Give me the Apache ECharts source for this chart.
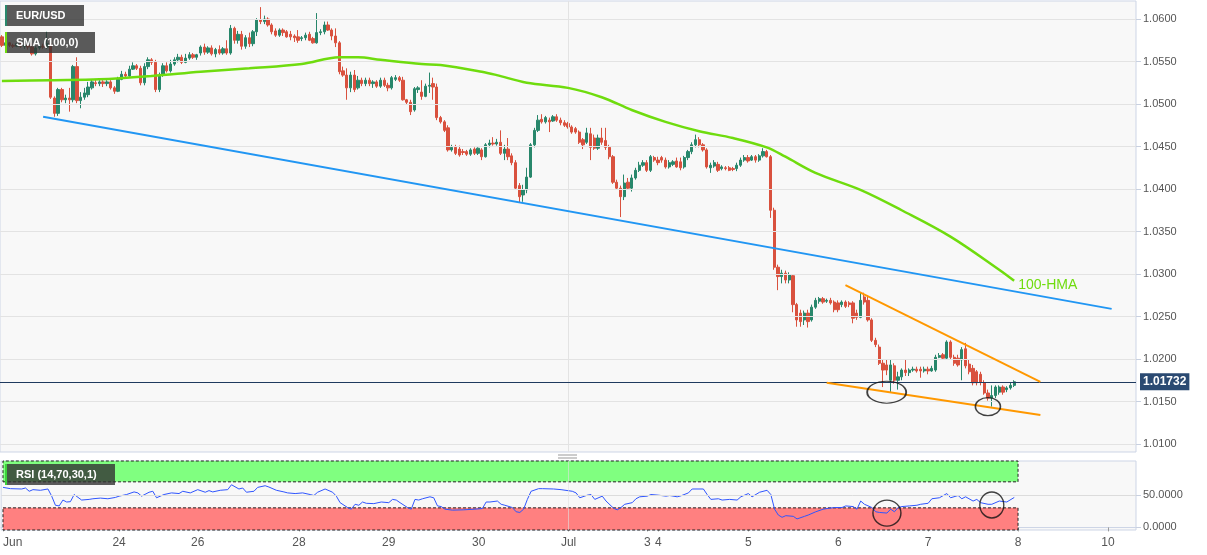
<!DOCTYPE html>
<html><head><meta charset="utf-8">
<script src="https://cdn.jsdelivr.net/npm/echarts@6/dist/echarts.min.js"></script>
<style>html,body{margin:0;padding:0;background:#fff;}#c{width:1207px;height:555px;}</style>
</head><body><div id="c"></div>
<script>
// ---------- data ----------
const slotCount = 303; // hourly slots on the category axis (incl. empty future area)
const tickSlots = [0,31,52,79,103,127,151,172,175,199,223,247,271,295];
const tickLabels = ['Jun','24','26','28','29','30','Jul','3','4','5','6','7','8','10'];
const priceTicks = [1.0100,1.0150,1.0200,1.0250,1.0300,1.0350,1.0400,1.0450,1.0500,1.0550,1.0600];
const rsiTicks = [0,50];
const lastPrice = 1.01732;
const julSlot = 151;

const open = [1.0579,1.0569,1.0572,1.0569,1.0568,1.0571,1.0568,1.0569,1.0567,1.0559,
1.0566,1.0568,1.0567,1.0571,1.0507,1.0489,1.0517,1.0505,1.0507,1.0505,
1.0544,1.0504,1.0508,1.0511,1.0519,1.0525,1.0524,1.0526,1.0524,1.0526,
1.0519,1.0515,1.0529,1.0535,1.0533,1.0541,1.0545,1.0542,1.0525,1.0544,
1.0552,1.0549,1.0517,1.0534,1.0545,1.0539,1.0547,1.0552,1.0555,1.0549,
1.0554,1.0558,1.0555,1.0560,1.0567,1.0561,1.0566,1.0559,1.0564,1.0560,
1.0565,1.0560,1.0589,1.0575,1.0582,1.0568,1.0578,1.0571,1.0585,1.0599,
1.0597,1.0600,1.0593,1.0586,1.0581,1.0587,1.0585,1.0582,1.0580,1.0579,
1.0577,1.0578,1.0582,1.0577,1.0572,1.0584,1.0585,1.0593,1.0587,1.0580,
1.0572,1.0539,1.0534,1.0519,1.0534,1.0519,1.0528,1.0524,1.0528,1.0524,
1.0526,1.0521,1.0528,1.0522,1.0519,1.0529,1.0531,1.0528,1.0505,1.0502,
1.0493,1.0517,1.0514,1.0509,1.0521,1.0524,1.0520,1.0484,1.0479,1.0472,
1.0446,1.0449,1.0447,1.0444,1.0444,1.0441,1.0447,1.0442,1.0446,1.0438,
1.0452,1.0454,1.0453,1.0455,1.0442,1.0447,1.0439,1.0431,1.0404,1.0393,
1.0399,1.0414,1.0452,1.0469,1.0482,1.0479,1.0481,1.0480,1.0485,1.0481,
1.0478,1.0477,1.0473,1.0471,1.0467,1.0458,1.0455,1.0465,1.0460,1.0448,
1.0460,1.0457,1.0449,1.0438,1.0408,1.0401,1.0391,1.0408,1.0401,1.0413,
1.0422,1.0428,1.0431,1.0422,1.0437,1.0434,1.0437,1.0434,1.0426,1.0429,
1.0433,1.0432,1.0426,1.0437,1.0444,1.0452,1.0458,1.0452,1.0446,1.0425,
1.0427,1.0429,1.0424,1.0425,1.0425,1.0424,1.0424,1.0428,1.0434,1.0437,
1.0434,1.0438,1.0434,1.0439,1.0444,1.0438,1.0375,1.0308,1.0297,1.0301,
1.0293,1.0298,1.0264,1.0254,1.0246,1.0254,1.0246,1.0261,1.0268,1.0271,
1.0268,1.0269,1.0267,1.0266,1.0264,1.0267,1.0266,1.0266,1.0254,1.0249,
1.0273,1.0269,1.0246,1.0222,1.0214,1.0195,1.0193,1.0175,1.0192,1.0175,
1.0179,1.0187,1.0184,1.0187,1.0188,1.0188,1.0186,1.0188,1.0186,1.0187,
1.0202,1.0205,1.0201,1.0220,1.0202,1.0201,1.0199,1.0212,1.0194,1.0189,
1.0185,1.0182,1.0172,1.0160,1.0154,1.0157,1.0161,1.0167,1.0164,1.0166,1.0169];

const close = [1.0569,1.0572,1.0569,1.0568,1.0571,1.0568,1.0569,1.0567,1.0559,1.0566,
1.0568,1.0567,1.0571,1.0508,1.0489,1.0517,1.0505,1.0507,1.0505,1.0544,
1.0504,1.0508,1.0513,1.0520,1.0526,1.0524,1.0526,1.0524,1.0526,1.0519,
1.0515,1.0529,1.0535,1.0533,1.0541,1.0545,1.0542,1.0525,1.0544,1.0552,
1.0549,1.0517,1.0534,1.0545,1.0539,1.0547,1.0552,1.0555,1.0549,1.0554,
1.0558,1.0555,1.0558,1.0567,1.0561,1.0566,1.0559,1.0564,1.0560,1.0565,
1.0560,1.0589,1.0575,1.0582,1.0568,1.0578,1.0571,1.0585,1.0599,1.0597,
1.0600,1.0593,1.0585,1.0581,1.0587,1.0584,1.0579,1.0579,1.0578,1.0575,
1.0578,1.0581,1.0575,1.0572,1.0584,1.0585,1.0593,1.0587,1.0580,1.0572,
1.0538,1.0534,1.0519,1.0534,1.0517,1.0528,1.0524,1.0528,1.0524,1.0526,
1.0521,1.0528,1.0522,1.0519,1.0531,1.0531,1.0528,1.0505,1.0502,1.0491,
1.0518,1.0519,1.0509,1.0521,1.0522,1.0520,1.0484,1.0479,1.0469,1.0446,
1.0449,1.0442,1.0440,1.0443,1.0441,1.0446,1.0442,1.0448,1.0438,1.0452,
1.0454,1.0453,1.0455,1.0442,1.0447,1.0438,1.0431,1.0401,1.0391,1.0399,
1.0414,1.0452,1.0469,1.0481,1.0479,1.0484,1.0479,1.0485,1.0481,1.0478,
1.0475,1.0473,1.0467,1.0467,1.0455,1.0452,1.0466,1.0449,1.0448,1.0460,
1.0455,1.0449,1.0438,1.0408,1.0401,1.0391,1.0407,1.0401,1.0413,1.0422,
1.0428,1.0431,1.0422,1.0438,1.0434,1.0431,1.0434,1.0426,1.0431,1.0432,
1.0426,1.0425,1.0437,1.0444,1.0452,1.0458,1.0452,1.0446,1.0426,1.0428,
1.0431,1.0422,1.0426,1.0424,1.0422,1.0423,1.0428,1.0434,1.0437,1.0433,
1.0438,1.0434,1.0439,1.0444,1.0438,1.0375,1.0308,1.0297,1.0301,1.0293,
1.0299,1.0264,1.0246,1.0244,1.0254,1.0244,1.0261,1.0269,1.0271,1.0267,
1.0269,1.0266,1.0258,1.0258,1.0267,1.0262,1.0264,1.0248,1.0249,1.0269,
1.0267,1.0246,1.0222,1.0217,1.0195,1.0187,1.0187,1.0193,1.0175,1.0179,
1.0187,1.0184,1.0187,1.0188,1.0186,1.0186,1.0188,1.0186,1.0189,1.0202,
1.0204,1.0201,1.0220,1.0202,1.0195,1.0193,1.0211,1.0192,1.0185,1.0172,
1.0172,1.0173,1.0160,1.0154,1.0157,1.0167,1.0167,1.0161,1.0166,1.0169,1.01732];

const high = [1.0581,1.0575,1.0573,1.0571,1.0572,1.0572,1.0571,1.0571,1.0572,1.0568,
1.0571,1.0571,1.0585,1.0573,1.0509,1.0519,1.0519,1.0511,1.0519,1.0546,
1.0555,1.0514,1.0519,1.0526,1.0529,1.0528,1.0528,1.0528,1.0528,1.0528,
1.0521,1.0532,1.0539,1.0538,1.0545,1.0549,1.0547,1.0545,1.0548,1.0555,
1.0554,1.0552,1.0537,1.0548,1.0549,1.0552,1.0555,1.0559,1.0558,1.0559,
1.0561,1.0560,1.0559,1.0569,1.0571,1.0568,1.0569,1.0566,1.0569,1.0567,
1.0575,1.0593,1.0591,1.0586,1.0586,1.0581,1.0584,1.0587,1.0601,1.0614,
1.0604,1.0602,1.0595,1.0589,1.0589,1.0589,1.0587,1.0586,1.0582,1.0587,
1.0580,1.0584,1.0585,1.0579,1.0607,1.0588,1.0597,1.0597,1.0589,1.0589,
1.0574,1.0544,1.0542,1.0538,1.0540,1.0533,1.0531,1.0531,1.0531,1.0528,
1.0528,1.0531,1.0531,1.0525,1.0533,1.0534,1.0533,1.0532,1.0506,1.0505,
1.0520,1.0521,1.0528,1.0524,1.0537,1.0531,1.0524,1.0486,1.0481,1.0475,
1.0452,1.0452,1.0451,1.0447,1.0446,1.0448,1.0449,1.0449,1.0448,1.0454,
1.0458,1.0461,1.0459,1.0469,1.0452,1.0460,1.0442,1.0434,1.0407,1.0405,
1.0425,1.0454,1.0472,1.0487,1.0488,1.0486,1.0484,1.0487,1.0488,1.0484,
1.0481,1.0479,1.0475,1.0473,1.0469,1.0460,1.0472,1.0472,1.0464,1.0464,
1.0472,1.0472,1.0452,1.0440,1.0411,1.0404,1.0417,1.0413,1.0417,1.0425,
1.0432,1.0434,1.0434,1.0440,1.0439,1.0438,1.0439,1.0437,1.0434,1.0434,
1.0437,1.0437,1.0439,1.0446,1.0455,1.0464,1.0461,1.0454,1.0448,1.0431,
1.0434,1.0432,1.0428,1.0427,1.0427,1.0426,1.0431,1.0437,1.0440,1.0440,
1.0440,1.0440,1.0441,1.0448,1.0446,1.0440,1.0378,1.0311,1.0305,1.0304,
1.0302,1.0300,1.0266,1.0258,1.0257,1.0258,1.0264,1.0272,1.0273,1.0273,
1.0271,1.0272,1.0269,1.0269,1.0269,1.0269,1.0268,1.0268,1.0258,1.0278,
1.0278,1.0275,1.0248,1.0225,1.0217,1.0199,1.0199,1.0199,1.0195,1.0185,
1.0189,1.0199,1.0189,1.0191,1.0191,1.0191,1.0191,1.0191,1.0192,1.0205,
1.0207,1.0207,1.0222,1.0222,1.0205,1.0205,1.0214,1.0219,1.0199,1.0193,
1.0187,1.0185,1.0175,1.0164,1.0169,1.0169,1.0169,1.0169,1.0168,1.0172,1.0175];

const low = [1.0567,1.0567,1.0567,1.0566,1.0567,1.0566,1.0565,1.0564,1.0557,1.0557,
1.0564,1.0565,1.0565,1.0506,1.0485,1.0486,1.0502,1.0501,1.0491,1.0502,
1.0501,1.0495,1.0505,1.0508,1.0517,1.0521,1.0521,1.0520,1.0521,1.0517,
1.0512,1.0514,1.0528,1.0531,1.0532,1.0540,1.0540,1.0522,1.0522,1.0541,
1.0546,1.0514,1.0514,1.0532,1.0537,1.0537,1.0545,1.0549,1.0547,1.0548,
1.0552,1.0553,1.0552,1.0557,1.0558,1.0559,1.0557,1.0555,1.0558,1.0558,
1.0558,1.0558,1.0571,1.0571,1.0564,1.0565,1.0567,1.0568,1.0580,1.0594,
1.0594,1.0591,1.0582,1.0579,1.0579,1.0580,1.0578,1.0575,1.0573,1.0572,
1.0574,1.0575,1.0574,1.0571,1.0571,1.0581,1.0582,1.0586,1.0575,1.0567,
1.0535,1.0532,1.0505,1.0514,1.0514,1.0517,1.0521,1.0521,1.0521,1.0519,
1.0519,1.0519,1.0520,1.0515,1.0517,1.0527,1.0526,1.0504,1.0500,1.0487,
1.0491,1.0513,1.0505,1.0508,1.0513,1.0505,1.0481,1.0477,1.0467,1.0444,
1.0444,1.0440,1.0438,1.0440,1.0439,1.0439,1.0440,1.0440,1.0434,1.0437,
1.0449,1.0451,1.0451,1.0440,1.0434,1.0434,1.0428,1.0399,1.0384,1.0385,
1.0395,1.0413,1.0449,1.0467,1.0477,1.0477,1.0467,1.0479,1.0479,1.0475,
1.0473,1.0471,1.0465,1.0465,1.0453,1.0447,1.0453,1.0434,1.0446,1.0446,
1.0452,1.0446,1.0435,1.0406,1.0399,1.0367,1.0387,1.0399,1.0397,1.0411,
1.0420,1.0426,1.0420,1.0420,1.0432,1.0428,1.0431,1.0424,1.0424,1.0427,
1.0425,1.0422,1.0424,1.0434,1.0441,1.0449,1.0449,1.0444,1.0424,1.0419,
1.0425,1.0420,1.0422,1.0422,1.0421,1.0421,1.0421,1.0426,1.0432,1.0431,
1.0433,1.0431,1.0432,1.0437,1.0437,1.0366,1.0305,1.0281,1.0289,1.0289,
1.0289,1.0255,1.0238,1.0238,1.0240,1.0237,1.0244,1.0259,1.0265,1.0265,
1.0266,1.0264,1.0255,1.0255,1.0261,1.0260,1.0261,1.0242,1.0246,1.0248,
1.0264,1.0244,1.0220,1.0214,1.0193,1.0167,1.0181,1.0161,1.0171,1.0164,
1.0175,1.0180,1.0180,1.0185,1.0184,1.0178,1.0184,1.0182,1.0185,1.0185,
1.0201,1.0199,1.0199,1.0200,1.0192,1.0191,1.0175,1.0189,1.0182,1.0169,
1.0169,1.0169,1.0158,1.0151,1.0144,1.0154,1.0158,1.0158,1.0161,1.0164,1.0167];

const smaSlot  = [0,13,26,40,53,66,80,90,95,101,112,117,128,132,140,151,160,168,177,186,195,204,209,217,229,240,253,266,270];
const smaValue = [1.0527,1.0528,1.0529,1.0533,1.0538,1.0542,1.0547,1.0555,1.0555,1.0552,1.0547,1.0546,1.0538,1.0534,1.0525,1.0519,1.0508,1.0493,1.0479,1.0468,1.0460,1.0449,1.0438,1.0419,1.0399,1.0375,1.0344,1.0305,1.0292];

const rsiSlot = [0,2,5,6,7,8,10,12,13,14,15,16,17,18,19,21,23,24,26,28,30,31,33,35,36,37,39,40,41,43,45,47,48,50,51,52,54,55,56,58,60,61,63,64,65,67,68,70,71,73,75,76,78,80,82,83,84,86,88,89,90,92,93,94,95,96,97,99,101,103,104,105,106,108,109,110,111,112,114,115,116,117,118,120,123,126,128,129,130,132,133,134,136,137,138,139,140,141,143,144,147,149,152,153,154,156,157,158,160,161,163,164,165,166,168,169,170,172,173,175,177,178,180,181,183,184,187,188,189,191,192,194,196,197,199,200,202,204,205,206,207,208,209,211,212,214,215,217,219,220,222,224,225,227,228,229,230,232,233,234,236,237,238,239,240,242,244,245,247,248,250,252,253,255,256,257,259,260,261,263,264,266,268,270];
const rsiValue = [61.5,59.5,59,60.5,55.5,58,57,59,48,34,33,42,39,39.5,50.5,42,43,44,45,44,46,48,50.5,54.5,53,48,54,55.5,45.5,50.5,53,52,55.5,53,55.5,58,54,56.5,54.5,57,58,65.5,59,60.5,54,55.5,61.5,64,62,57,54.5,53,52,53,50.5,49,54,59,54,48,38,30.5,28,35.5,34,39,37,36.5,39,38,43,42,38,30.5,28,43,42,44,47,45.5,33,32,28,26.5,27,28,29,39,39,40.5,35.5,34,30.5,24,23,28,43,55.5,59.5,59.5,59,58,55.5,53,45.5,49.5,50.5,43,48,40.5,29.5,27,30.5,35.5,38,44,47,48,50.5,49.5,48,49,47,48.5,53,59,59,50.5,43,44,42,43,42,47,52,47,54,57,50.5,28,19,15.5,18,17,13,17,19,24,28,29,30.5,30.5,33,32,28,40.5,35.5,30.5,24,23,22,28,24,30.5,32,33,34,35.5,37,44,45.5,52,45.5,49,44,47,40.5,43,38,35.5,35.5,40.5,39,46];

const channelSlot = [11,296];          const channelValue = [1.0485,1.0259];
const wedgeTopSlot = [225,277];        const wedgeTopValue = [1.0287,1.0173];
const wedgeBottomSlot = [220,277];     const wedgeBottomValue = [1.0172,1.0134];
const circleSlot = [236,263];          const circleValue = [1.0161,1.0144];
const rsiCircleSlot = [236,264];       const rsiCircleValue = [22,34.5];
const rsiZoneEnd = 271;
const rsiUpper = 70, rsiLower = 30, rsiTop = 102, rsiBottom = -4;

// ---------- chart ----------
const FONT = '"Liberation Sans", Arial, sans-serif';
const UP = '#28876b', DOWN = '#d9513e';
const cats = Array.from({length: slotCount}, (_, i) => String(i));
const candles = open.map((o, i) => [o, close[i], low[i], high[i]]);
const pairs = (xs, ys) => xs.map((x, i) => [x, ys[i]]);
const showTick = (idx) => tickSlots.indexOf(idx) >= 0;

const chart = echarts.init(document.getElementById('c'), null, {renderer: 'canvas'});

function legendBox(x, y, w, label, barColor) {
  return [
    {type: 'rect', z: 100, zlevel: 1, shape: {x: x, y: y, width: w, height: 21}, style: {fill: 'rgba(50,50,50,0.8)'}},
    {type: 'rect', z: 101, zlevel: 1, shape: {x: x, y: y, width: 2, height: 21}, style: {fill: barColor}},
    {type: 'text', z: 102, zlevel: 1, style: {x: x + 11, y: y + 11, text: label, fill: '#fff', fontSize: 11, fontWeight: 'bold', fontFamily: FONT, verticalAlign: 'middle'}}
  ];
}

chart.setOption({
  animation: false,
  backgroundColor: '#ffffff',
  grid: [
    {left: 0, top: 1, width: 1136, height: 451, show: true, backgroundColor: '#f8f8f8', borderColor: '#cdd5e6', borderWidth: 1},
    {left: 0, top: 461, width: 1136, height: 69, show: true, backgroundColor: '#f8f8f8', borderColor: '#cdd5e6', borderWidth: 1}
  ],
  xAxis: [
    {gridIndex: 0, type: 'category', data: cats, show: false},
    {gridIndex: 1, type: 'category', data: cats,
      axisLine: {show: true, lineStyle: {color: '#cdd5e6'}},
      axisTick: {show: true, alignWithLabel: true, interval: showTick, length: 4, lineStyle: {color: '#999'}},
      axisLabel: {interval: showTick, formatter: (v, idx) => tickLabels[tickSlots.indexOf(idx)] || '',
        color: '#555', fontSize: 12, fontFamily: FONT, margin: 7, alignMinLabel: 'left'},
      splitLine: {show: false}}
  ],
  yAxis: [
    {gridIndex: 0, type: 'value', position: 'right', min: 1.00906, max: 1.06212,
      splitLine: {show: false}, axisLine: {show: false},
      axisTick: {show: true, customValues: priceTicks, length: 5, lineStyle: {color: '#c8d0e0'}},
      axisLabel: {customValues: priceTicks, formatter: v => v.toFixed(4), color: '#555', fontSize: 11, fontFamily: FONT, margin: 7}},
    {gridIndex: 1, type: 'value', position: 'right', min: rsiBottom, max: rsiTop,
      splitLine: {show: false}, axisLine: {show: false},
      axisTick: {show: true, customValues: rsiTicks, length: 5, lineStyle: {color: '#c8d0e0'}},
      axisLabel: {customValues: rsiTicks, formatter: v => v.toFixed(4), color: '#555', fontSize: 11, fontFamily: FONT, margin: 7}}
  ],
  series: [
    { // price grid lines + month separator
      type: 'line', xAxisIndex: 0, yAxisIndex: 0, data: [], z: 1, silent: true,
      markLine: {silent: true, precision: 5, symbol: ['none', 'none'], label: {show: false}, animation: false,
        lineStyle: {color: '#e3e3e3', width: 1, type: 'solid'},
        data: priceTicks.map(v => ({yAxis: v})).concat([{xAxis: julSlot}])}
    },
    {
      type: 'candlestick', xAxisIndex: 0, yAxisIndex: 0, data: candles, barWidth: 2.8, z: 3,
      itemStyle: {color: UP, color0: DOWN, borderColor: UP, borderColor0: DOWN, borderWidth: 1},
      markLine: {silent: true, precision: 5, symbol: ['none', 'none'], animation: false,
        lineStyle: {color: '#1f3a5f', width: 1, type: 'solid'},
        label: {show: true, position: 'end', distance: 4, formatter: () => lastPrice.toFixed(5),
          color: '#fff', backgroundColor: '#2b4a72', padding: [3, 3, 2, 3], fontSize: 12, fontWeight: 'bold', fontFamily: FONT},
        data: [{yAxis: lastPrice}]}
    },
    {
      type: 'line', xAxisIndex: 0, yAxisIndex: 0, data: pairs(smaSlot, smaValue), smooth: 0.35,
      symbol: 'none', z: 5, lineStyle: {color: '#6fdc0e', width: 2.5},
      endLabel: {show: true, formatter: '100-HMA', color: '#6fdc0e', fontSize: 14, fontFamily: FONT, distance: 4, offset: [0, 4]}
    },
    {type: 'line', xAxisIndex: 0, yAxisIndex: 0, data: pairs(channelSlot, channelValue), symbol: 'none', z: 5,
      lineStyle: {color: '#2196f3', width: 2}},
    {type: 'line', xAxisIndex: 0, yAxisIndex: 0, data: pairs(wedgeTopSlot, wedgeTopValue), symbol: 'none', z: 5,
      lineStyle: {color: '#ff9800', width: 2}},
    {type: 'line', xAxisIndex: 0, yAxisIndex: 0, data: pairs(wedgeBottomSlot, wedgeBottomValue), symbol: 'none', z: 5,
      lineStyle: {color: '#ff9800', width: 2}},
    {type: 'scatter', xAxisIndex: 0, yAxisIndex: 0, data: pairs(circleSlot, circleValue), z: 6, silent: true,
      symbol: 'circle', symbolSize: (v, p) => [[39, 22], [25, 18]][p.dataIndex],
      itemStyle: {color: 'rgba(0,0,0,0)', borderColor: '#111', borderWidth: 1.4}},
    { // RSI zones
      type: 'line', xAxisIndex: 1, yAxisIndex: 1, data: [], z: 1, silent: true,
      markArea: {silent: true, animation: false,
        itemStyle: {borderColor: '#222', borderWidth: 1, borderType: [3, 2]},
        data: [
          [{xAxis: 0, yAxis: rsiUpper, itemStyle: {color: '#80ff80'}}, {xAxis: rsiZoneEnd, yAxis: rsiTop}],
          [{xAxis: 0, yAxis: rsiLower, itemStyle: {color: '#ff8080'}}, {xAxis: rsiZoneEnd, yAxis: rsiBottom}]
        ]}
    },
    {
      type: 'line', xAxisIndex: 1, yAxisIndex: 1, data: pairs(rsiSlot, rsiValue), symbol: 'none', z: 3,
      lineStyle: {color: '#2f55ff', width: 1},
      markLine: {silent: true, precision: 2, symbol: ['none', 'none'], label: {show: false}, animation: false,
        data: [
          {yAxis: 50, lineStyle: {color: '#dcdcdc', width: 1, type: 'solid'}},
          {xAxis: julSlot, lineStyle: {color: 'rgba(225,225,225,0.6)', width: 1, type: 'solid'}}
        ]}
    },
    {type: 'scatter', xAxisIndex: 1, yAxisIndex: 1, data: pairs(rsiCircleSlot, rsiCircleValue), z: 6, silent: true,
      symbol: 'circle', symbolSize: (v, p) => [[28, 26], [24, 26]][p.dataIndex],
      itemStyle: {color: 'rgba(0,0,0,0)', borderColor: '#111', borderWidth: 1.4}}
  ],
  graphic: [].concat(
    legendBox(5, 5, 79, 'EUR/USD', UP),
    legendBox(5, 32, 90, 'SMA (100,0)', '#6fdc0e'),
    legendBox(5, 464, 110, 'RSI (14,70,30,1)', '#3cd23c'),
    [
      {type: 'line', z: 100, zlevel: 1, shape: {x1: 558, y1: 455, x2: 577, y2: 455}, style: {stroke: '#999', lineWidth: 1}},
      {type: 'line', z: 100, zlevel: 1, shape: {x1: 558, y1: 458, x2: 577, y2: 458}, style: {stroke: '#999', lineWidth: 1}}
    ]
  )
});
</script>
</body></html>
